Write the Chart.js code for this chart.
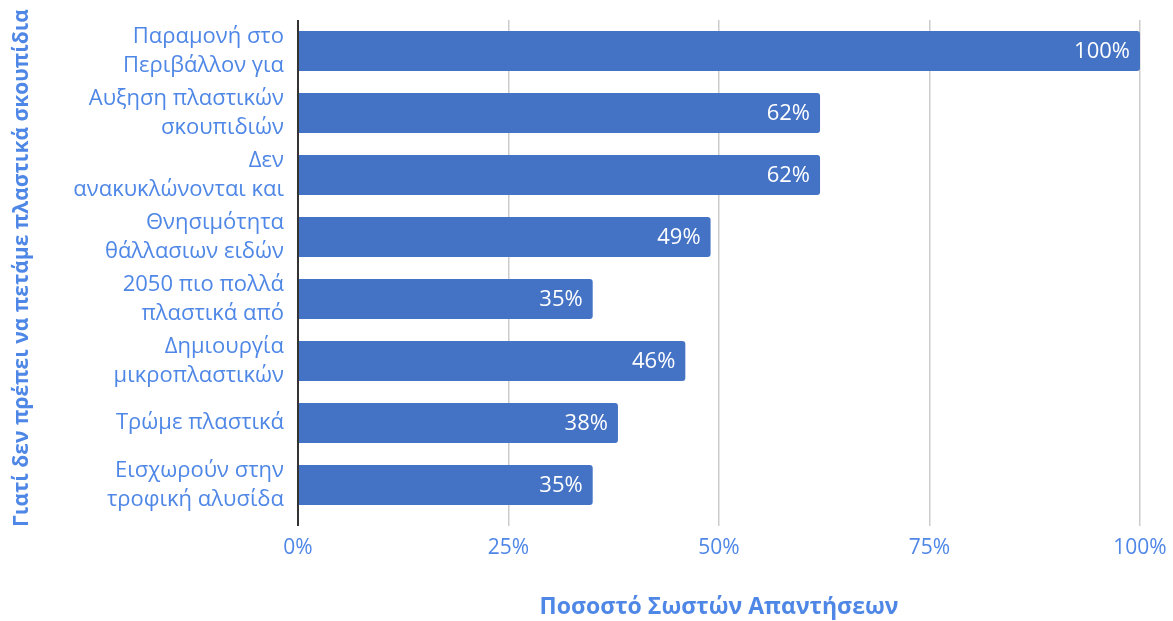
<!DOCTYPE html>
<html>
<head>
<meta charset="utf-8">
<script src="https://cdn.jsdelivr.net/npm/chart.js@4"></script>
<style>
    html, body { margin: 0; padding: 0; background: #ffffff; }
    #wrap { width: 1173px; height: 621px; }
</style>
</head>
<body>
<div id="wrap"><canvas id="answersChart"></canvas></div>
<script>
// Κατηγορίες (κάθε ετικέτα σε δύο γραμμές, όπως στο πρωτότυπο)
const categories = [
    ['Παραμονή στο', 'Περιβάλλον για'],
    ['Αυξηση πλαστικών', 'σκουπιδιών'],
    ['Δεν', 'ανακυκλώνονται και'],
    ['Θνησιμότητα', 'θάλλασιων ειδών'],
    ['2050 πιο πολλά', 'πλαστικά από'],
    ['Δημιουργία', 'μικροπλαστικών'],
    'Τρώμε πλαστικά',
    ['Εισχωρούν στην', 'τροφική αλυσίδα']
];
const correctPercent = [100, 62, 62, 49, 35, 46, 38, 35];
const xTicks = [0, 25, 50, 75, 100];

const xTitle = 'Ποσοστό Σωστών Απαντήσεων';
const yTitle = 'Γιατί δεν πρέπει να πετάμε πλαστικά σκουπίδια';

const labelBlue = '#4f87e6';
const barBlue = '#4472c4';
const fontFamily = '"Open Sans", "Noto Sans", sans-serif';

// Ετικέτες τιμών μέσα στην άκρη κάθε μπάρας
const valueLabels = {
    id: 'valueLabels',
    afterDatasetsDraw(chart) {
        const ctx = chart.ctx;
        const meta = chart.getDatasetMeta(0);
        ctx.save();
        ctx.fillStyle = '#ffffff';
        ctx.font = '22px ' + fontFamily;
        ctx.textAlign = 'right';
        ctx.textBaseline = 'middle';
        meta.data.forEach((bar, i) => {
            ctx.fillText(correctPercent[i] + '%', bar.x - 10, bar.y + 1);
        });
        ctx.restore();
    }
};

const ctx = document.getElementById('answersChart').getContext('2d');
new Chart(ctx, {
    type: 'bar',
    data: {
        labels: categories,
        datasets: [{
            data: correctPercent,
            backgroundColor: barBlue,
            borderWidth: 0,
            borderRadius: { topRight: 3, bottomRight: 3 },
            borderSkipped: 'start',
            barPercentage: 0.645,
            categoryPercentage: 1
        }]
    },
    options: {
        indexAxis: 'y',
        responsive: true,
        maintainAspectRatio: false,
        animation: false,
        layout: { padding: { top: 20, right: 33, bottom: 0, left: 0 } },
        plugins: {
            legend: { display: false },
            tooltip: { enabled: false }
        },
        scales: {
            x: {
                min: 0,
                max: 100,
                afterBuildTicks: scale => {
                    scale.ticks = xTicks.map(v => ({ value: v }));
                },
                afterFit: scale => {
                    scale.height = 105;
                    scale.paddingLeft = 0;
                    scale.paddingRight = 0;
                },
                grid: {
                    color: ctx => ctx.tick && ctx.tick.value === 0 ? '#333333' : '#cccccc',
                    lineWidth: ctx => ctx.tick && ctx.tick.value === 0 ? 2 : 1.5,
                    drawTicks: true,
                    tickLength: 10
                },
                border: { display: false },
                ticks: {
                    color: labelBlue,
                    font: { family: fontFamily, size: 21 },
                    padding: 9,
                    callback: v => v + '%'
                },
                title: {
                    display: true,
                    text: xTitle,
                    color: labelBlue,
                    font: { family: fontFamily, size: 23, weight: 'bold' },
                    padding: { top: 0, bottom: 0 }
                }
            },
            y: {
                afterFit: scale => {
                    scale.width = 298;
                    scale.paddingTop = 0;
                    scale.paddingBottom = 0;
                },
                grid: { display: false },
                border: { display: false },
                ticks: {
                    color: labelBlue,
                    font: { family: fontFamily, size: 22, lineHeight: 1.3 },
                    padding: 6
                },
                title: {
                    display: true,
                    text: yTitle,
                    color: labelBlue,
                    font: { family: fontFamily, size: 21, weight: 'bold' },
                    padding: { top: 9, bottom: 0 }
                }
            }
        }
    },
    plugins: [valueLabels]
});
</script>
</body>
</html>
